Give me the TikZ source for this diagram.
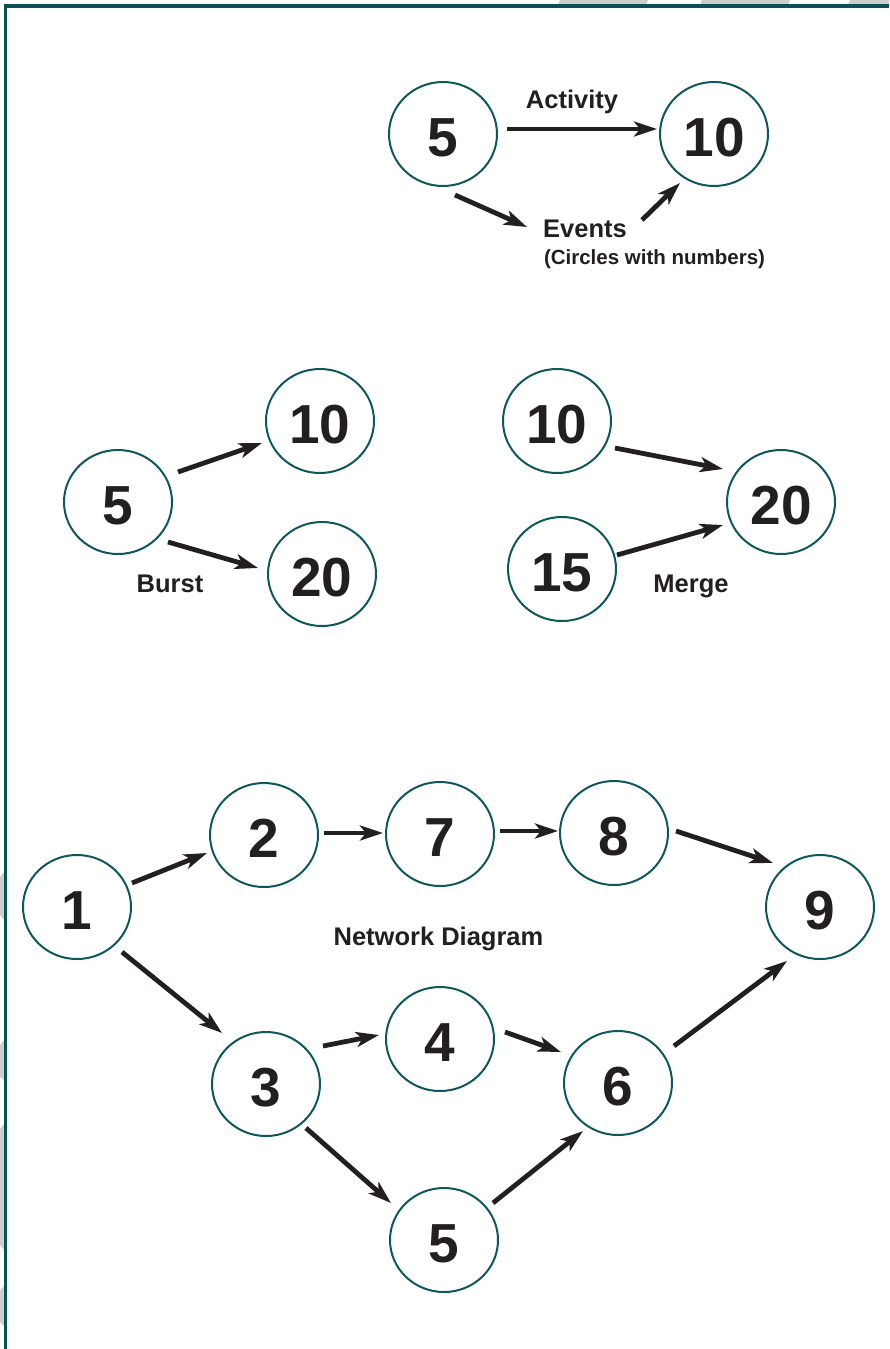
\documentclass[tikz,border=0pt]{standalone}
\usepackage{fontspec}
\setmainfont{Liberation Sans}
\usetikzlibrary{arrows.meta,shapes.geometric}

\definecolor{evtteal}{RGB}{14,88,92}
\definecolor{frameteal}{RGB}{10,80,86}
\definecolor{ink}{RGB}{35,31,32}
\definecolor{stripe}{RGB}{205,205,205}

\begin{document}
\begin{tikzpicture}[x=1pt,y=-1pt,
  event/.style={ellipse, draw=evtteal, line width=2pt, minimum width=108pt,
    minimum height=104pt, inner sep=0pt, text=ink,
    text height=45.4pt, text depth=0pt,
    font=\fontsize{55}{55}\selectfont\bfseries},
  lbl/.style={text=ink, inner sep=0pt, anchor=base,
    font=\fontsize{25.5}{25.5}\selectfont\bfseries},
  sublbl/.style={lbl, font=\fontsize{20.5}{20.5}\selectfont\bfseries},
  act/.style={draw=ink, line width=4.8pt,
    -{Stealth[length=23pt,width=15pt,inset=6pt]}}]

\useasboundingbox (0,0) rectangle (889,1349);

% light background stripes behind the frame
\fill[stripe] (560,0) -- (648,0) -- (646,5) -- (558,5) -- cycle;
\fill[stripe] (702,0) -- (790,0) -- (788,5) -- (700,5) -- cycle;
\fill[stripe] (850,0) -- (889,0) -- (889,5) -- (848,5) -- cycle;
\fill[stripe] (0,877) -- (4,872) -- (4,920) -- (0,915) -- cycle;
\fill[stripe] (0,1045) -- (4,1040) -- (4,1080) -- (0,1077) -- cycle;
\fill[stripe] (0,1129) -- (4,1124) -- (4,1250) -- (0,1245) -- cycle;
\fill[stripe] (0,1290) -- (4,1286) -- (4,1326) -- (0,1322) -- cycle;

% page frame
\draw[frameteal, line width=3.5pt] (5.5,1349) -- (5.5,6) -- (889,6);

% ---- legend: activity and events ----
\node[event] (t5)  at (443,134) {5};
\node[event] (t10) at (714,134) {10};
\node[lbl] (actlbl) at (572,108) {Activity};
\node[lbl] (ev) at (585,237) {Events};
\node[sublbl] (evsub) at (654.5,264) {(Circles with numbers)};

\draw[act] ([shift={(64,-5)}]t5.center) -- ([shift={(-57,-5)}]t10.center);
\draw[act] ([shift={(12,61)}]t5.center) -- ([shift={(-58,-10)}]ev.base);
\draw[act] ([shift={(57,-17)}]ev.base) -- ([shift={(-34,49)}]t10.center);

% ---- burst ----
\node[event] (b5)  at (118,502) {5};
\node[event] (b10) at (320,421) {10};
\node[event] (b20) at (322,574) {20};
\node[lbl] (burst) at (170,592) {Burst};

\draw[act] ([shift={(60,-30)}]b5.center) -- ([shift={(-58,22)}]b10.center);
\draw[act] ([shift={(50,40)}]b5.center) -- ([shift={(-64,-6)}]b20.center);

% ---- merge ----
\node[event] (m10) at (557,421) {10};
\node[event] (m15) at (562,569) {15};
\node[event] (m20) at (781,502) {20};
\node[lbl] (merge) at (691,592) {Merge};

\draw[act] ([shift={(58,27)}]m10.center) -- ([shift={(-58,-33)}]m20.center);
\draw[act] ([shift={(55,-14)}]m15.center) -- ([shift={(-58,23)}]m20.center);

% ---- network diagram ----
\node[event] (n1) at (77,907)   {1};
\node[event] (n2) at (264,835)  {2};
\node[event] (n7) at (440,834)  {7};
\node[event] (n8) at (614,833)  {8};
\node[event] (n9) at (820,907)  {9};
\node[event] (n3) at (266,1084) {3};
\node[event] (n4) at (440,1039) {4};
\node[event] (n6) at (618,1083) {6};
\node[event] (n5) at (444,1240) {5};
\node[lbl] (netlbl) at (438.5,945) {Network Diagram};

\draw[act] ([shift={(55,-24)}]n1.center) -- ([shift={(-57,18)}]n2.center);
\draw[act] ([shift={(60,-2)}]n2.center)  -- ([shift={(-57,-1)}]n7.center);
\draw[act] ([shift={(60,-3)}]n7.center)  -- ([shift={(-56,-2)}]n8.center);
\draw[act] ([shift={(62,-2)}]n8.center)  -- ([shift={(-47,-44)}]n9.center);
\draw[act] ([shift={(45,45)}]n1.center)  -- ([shift={(-44,-51)}]n3.center);
\draw[act] ([shift={(57,-38)}]n3.center) -- ([shift={(-61,-4)}]n4.center);
\draw[act] ([shift={(65,-7)}]n4.center)  -- ([shift={(-57,-31)}]n6.center);
\draw[act] ([shift={(56,-37)}]n6.center) -- ([shift={(-33,54)}]n9.center);
\draw[act] ([shift={(40,44)}]n3.center)  -- ([shift={(-53,-37)}]n5.center);
\draw[act] ([shift={(49,-37)}]n5.center) -- ([shift={(-35,48)}]n6.center);

\end{tikzpicture}
\end{document}
